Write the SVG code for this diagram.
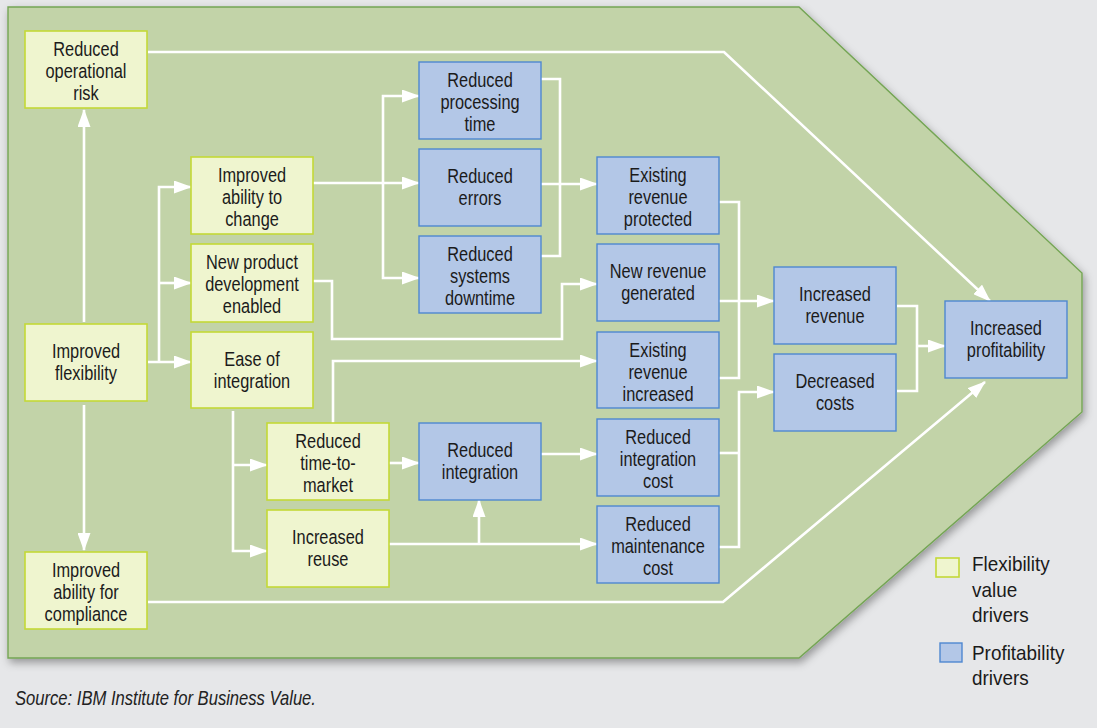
<svg xmlns="http://www.w3.org/2000/svg" width="1097" height="728" viewBox="0 0 1097 728">
  <style>
    .lbl { font-family: "Liberation Sans", Arial, sans-serif; font-size: 19.5px; fill: #1b1b1b; text-anchor: middle; }
    .flex rect { fill: #eff5cf; stroke: #c4d936; stroke-width: 1.6; }
    .prof rect { fill: #b3c7e7; stroke: #4f88d0; stroke-width: 1.4; }
    .wire { fill: none; stroke: #ffffff; stroke-width: 2.6; }
    .arrow { marker-end: url(#head); }
    .legend { font-family: "Liberation Sans", Arial, sans-serif; font-size: 21px; fill: #1b1b1b; }
    .source { font-family: "Liberation Sans", Arial, sans-serif; font-size: 20.5px; font-style: italic; fill: #222222; }
  </style>
  <defs>
    <marker id="head" viewBox="0 0 18 13" refX="17" refY="6.5" markerWidth="18" markerHeight="13" markerUnits="userSpaceOnUse" orient="auto">
      <path d="M0,0 L18,6.5 L0,13 Z" fill="#ffffff"/>
    </marker>
    <filter id="panelShadow" x="-5%" y="-5%" width="110%" height="115%">
      <feDropShadow dx="2" dy="4" stdDeviation="4" flood-color="#000000" flood-opacity="0.35"/>
    </filter>
  </defs>

  <!-- page -->
  <rect x="0" y="0" width="1097" height="728" fill="#e6e7e9"/>

  <!-- arrow-shaped panel -->
  <polygon points="8,7 799,7 1082,273 1082,412 799,658 8,658" fill="#c2d3a8" stroke="#74a554" stroke-width="1.4" filter="url(#panelShadow)"/>

  <!-- connectors -->
  <g id="connectors" class="wire">
    <path class="arrow" d="M84,322 V110"/>
    <path class="arrow" d="M84,405 V550"/>
    <path class="arrow" d="M148,362 H191"/>
    <path class="arrow" d="M159,362 V187 H191"/>
    <path class="arrow" d="M159,283 H191"/>
    <path class="arrow" d="M148,52 H724 L990,301"/>
    <path class="arrow" d="M148,602 H723 L985,382"/>
    <path class="arrow" d="M313,183 H419"/>
    <path class="arrow" d="M383,183 V96 H419"/>
    <path class="arrow" d="M383,183 V278 H419"/>
    <path d="M541,79 H560 V256 H541"/>
    <path class="arrow" d="M541,184 H597"/>
    <path class="arrow" d="M313,281 H332 V339 H562 V284 H597"/>
    <path class="arrow" d="M333,423 V361 H597"/>
    <path class="arrow" d="M233,411 V551 H267"/>
    <path class="arrow" d="M233,465 H267"/>
    <path class="arrow" d="M389,463 H419"/>
    <path class="arrow" d="M389,544 H597"/>
    <path class="arrow" d="M479,544 V500"/>
    <path class="arrow" d="M541,454 H597"/>
    <path d="M719,453 H739"/>
    <path class="arrow" d="M719,547 H739 V392 H774"/>
    <path d="M719,202 H739 V378 H719"/>
    <path class="arrow" d="M719,301 H774"/>
    <path d="M897,306 H917 V391 H897"/>
    <path class="arrow" d="M917,346 H945"/>
  </g>

  <!-- flexibility value drivers (labels are set in a condensed cut by narrowing the x axis) -->
  <g id="reduced-operational-risk" class="flex">
    <rect x="25" y="31" width="122" height="77"/>
    <text class="lbl" transform="translate(86 0) scale(0.84 1)"><tspan x="0" y="56">Reduced</tspan><tspan x="0" y="78">operational</tspan><tspan x="0" y="100">risk</tspan></text>
  </g>
  <g id="improved-flexibility" class="flex">
    <rect x="25" y="324" width="122" height="77"/>
    <text class="lbl" transform="translate(86 0) scale(0.84 1)"><tspan x="0" y="358">Improved</tspan><tspan x="0" y="380">flexibility</tspan></text>
  </g>
  <g id="improved-ability-for-compliance" class="flex">
    <rect x="25" y="552" width="122" height="77"/>
    <text class="lbl" transform="translate(86 0) scale(0.84 1)"><tspan x="0" y="577">Improved</tspan><tspan x="0" y="599">ability for</tspan><tspan x="0" y="621">compliance</tspan></text>
  </g>
  <g id="improved-ability-to-change" class="flex">
    <rect x="191" y="157" width="122" height="77"/>
    <text class="lbl" transform="translate(252 0) scale(0.84 1)"><tspan x="0" y="182">Improved</tspan><tspan x="0" y="204">ability to</tspan><tspan x="0" y="226">change</tspan></text>
  </g>
  <g id="new-product-development" class="flex">
    <rect x="191" y="244" width="122" height="78"/>
    <text class="lbl" transform="translate(252 0) scale(0.84 1)"><tspan x="0" y="269">New product</tspan><tspan x="0" y="291">development</tspan><tspan x="0" y="313">enabled</tspan></text>
  </g>
  <g id="ease-of-integration" class="flex">
    <rect x="191" y="332" width="122" height="76"/>
    <text class="lbl" transform="translate(252 0) scale(0.84 1)"><tspan x="0" y="366">Ease of</tspan><tspan x="0" y="388">integration</tspan></text>
  </g>
  <g id="reduced-time-to-market" class="flex">
    <rect x="267" y="423" width="122" height="77"/>
    <text class="lbl" transform="translate(328 0) scale(0.84 1)"><tspan x="0" y="448">Reduced</tspan><tspan x="0" y="470">time-to-</tspan><tspan x="0" y="492">market</tspan></text>
  </g>
  <g id="increased-reuse" class="flex">
    <rect x="267" y="510" width="122" height="77"/>
    <text class="lbl" transform="translate(328 0) scale(0.84 1)"><tspan x="0" y="544">Increased</tspan><tspan x="0" y="566">reuse</tspan></text>
  </g>

  <!-- profitability drivers -->
  <g id="reduced-processing-time" class="prof">
    <rect x="419" y="62" width="122" height="77"/>
    <text class="lbl" transform="translate(480 0) scale(0.84 1)"><tspan x="0" y="87">Reduced</tspan><tspan x="0" y="109">processing</tspan><tspan x="0" y="131">time</tspan></text>
  </g>
  <g id="reduced-errors" class="prof">
    <rect x="419" y="149" width="122" height="77"/>
    <text class="lbl" transform="translate(480 0) scale(0.84 1)"><tspan x="0" y="183">Reduced</tspan><tspan x="0" y="205">errors</tspan></text>
  </g>
  <g id="reduced-systems-downtime" class="prof">
    <rect x="419" y="236" width="122" height="77"/>
    <text class="lbl" transform="translate(480 0) scale(0.84 1)"><tspan x="0" y="261">Reduced</tspan><tspan x="0" y="283">systems</tspan><tspan x="0" y="305">downtime</tspan></text>
  </g>
  <g id="reduced-integration" class="prof">
    <rect x="419" y="423" width="122" height="77"/>
    <text class="lbl" transform="translate(480 0) scale(0.84 1)"><tspan x="0" y="457">Reduced</tspan><tspan x="0" y="479">integration</tspan></text>
  </g>
  <g id="existing-revenue-protected" class="prof">
    <rect x="597" y="157" width="122" height="77"/>
    <text class="lbl" transform="translate(658 0) scale(0.84 1)"><tspan x="0" y="182">Existing</tspan><tspan x="0" y="204">revenue</tspan><tspan x="0" y="226">protected</tspan></text>
  </g>
  <g id="new-revenue-generated" class="prof">
    <rect x="597" y="244" width="122" height="77"/>
    <text class="lbl" transform="translate(658 0) scale(0.84 1)"><tspan x="0" y="278">New revenue</tspan><tspan x="0" y="300">generated</tspan></text>
  </g>
  <g id="existing-revenue-increased" class="prof">
    <rect x="597" y="332" width="122" height="76"/>
    <text class="lbl" transform="translate(658 0) scale(0.84 1)"><tspan x="0" y="357">Existing</tspan><tspan x="0" y="379">revenue</tspan><tspan x="0" y="401">increased</tspan></text>
  </g>
  <g id="reduced-integration-cost" class="prof">
    <rect x="597" y="419" width="122" height="77"/>
    <text class="lbl" transform="translate(658 0) scale(0.84 1)"><tspan x="0" y="444">Reduced</tspan><tspan x="0" y="466">integration</tspan><tspan x="0" y="488">cost</tspan></text>
  </g>
  <g id="reduced-maintenance-cost" class="prof">
    <rect x="597" y="506" width="122" height="77"/>
    <text class="lbl" transform="translate(658 0) scale(0.84 1)"><tspan x="0" y="531">Reduced</tspan><tspan x="0" y="553">maintenance</tspan><tspan x="0" y="575">cost</tspan></text>
  </g>
  <g id="increased-revenue" class="prof">
    <rect x="774" y="267" width="122" height="77"/>
    <text class="lbl" transform="translate(835 0) scale(0.84 1)"><tspan x="0" y="301">Increased</tspan><tspan x="0" y="323">revenue</tspan></text>
  </g>
  <g id="decreased-costs" class="prof">
    <rect x="774" y="354" width="122" height="77"/>
    <text class="lbl" transform="translate(835 0) scale(0.84 1)"><tspan x="0" y="388">Decreased</tspan><tspan x="0" y="410">costs</tspan></text>
  </g>
  <g id="increased-profitability" class="prof">
    <rect x="945" y="301" width="122" height="77"/>
    <text class="lbl" transform="translate(1006 0) scale(0.84 1)"><tspan x="0" y="335">Increased</tspan><tspan x="0" y="357">profitability</tspan></text>
  </g>

  <!-- legend -->
  <g id="legend">
    <g class="flex"><rect x="936" y="558" width="23" height="19"/></g>
    <text class="legend" transform="translate(972 0) scale(0.9 1)"><tspan x="0" y="571">Flexibility</tspan><tspan x="0" y="597">value</tspan><tspan x="0" y="622">drivers</tspan></text>
    <g class="prof"><rect x="940" y="643" width="22" height="19"/></g>
    <text class="legend" transform="translate(972 0) scale(0.9 1)"><tspan x="0" y="660">Profitability</tspan><tspan x="0" y="685">drivers</tspan></text>
  </g>

  <text class="source" transform="translate(15 0) scale(0.81 1)" x="0" y="705">Source: IBM Institute for Business Value.</text>
</svg>
